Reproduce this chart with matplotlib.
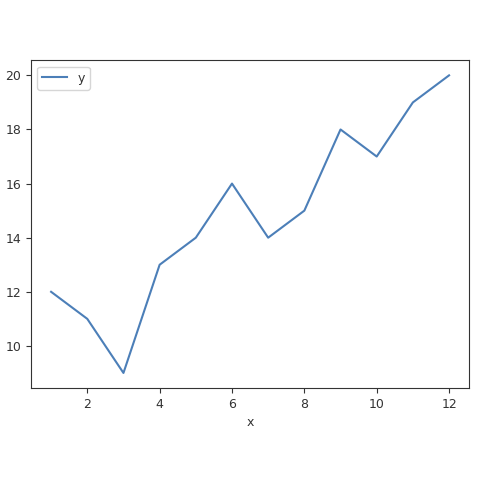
import matplotlib
matplotlib.use( "Agg" )
import matplotlib.pyplot as plt

# --- data --- #
x_values = [ 1, 2, 3, 4, 5, 6, 7, 8, 9, 10, 11, 12 ]
y_values = [ 12, 11, 9, 13, 14, 16, 14, 15, 18, 17, 19, 20 ]
series_name = "y"
x_label = "x"

dark = "#333333"

fig = plt.figure( figsize=( 4.8, 4.8 ), dpi=100 )
ax = fig.add_axes( [ 0.065, 0.192, 0.912, 0.682 ] )

ax.plot( x_values, y_values, color="#4C7FB8", linewidth=1.5, label=series_name )

ax.set_xlabel( x_label, fontsize=9, color=dark )
ax.set_xticks( [ 2, 4, 6, 8, 10, 12 ] )
ax.set_yticks( [ 10, 12, 14, 16, 18, 20 ] )
ax.tick_params( labelsize=9, colors=dark )
for spine in ax.spines.values():
	spine.set_color( dark )

ax.legend( loc="upper left", fontsize=9, labelcolor=dark )

fig.savefig( "out.png", dpi=100 )
